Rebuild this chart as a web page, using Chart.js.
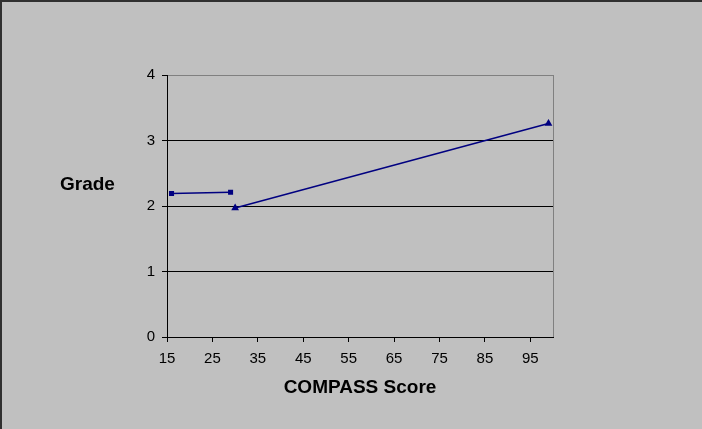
<!DOCTYPE html>
<html>
<head>
<meta charset="utf-8">
<script src="https://cdn.jsdelivr.net/npm/chart.js@4"></script>
<style>
    html, body { margin: 0; padding: 0; background: #c0c0c0; }
    #wrap {
        position: relative;
        width: 702px;
        height: 429px;
        background: #c0c0c0;
        box-shadow: inset 2px 2px 0 #303030;
        font-family: "Liberation Sans", Arial, sans-serif;
    }
    #chartGrades { position: absolute; left: 0; top: 0; }
    #yTitle {
        position: absolute;
        left: 60px;
        top: 173px;
        font-size: 19px;
        font-weight: bold;
        color: #000;
    }
</style>
</head>
<body>
<div id="wrap">
    <canvas id="chartGrades" width="702" height="429"></canvas>
    <div id="yTitle">Grade</div>
</div>
<script>
// data
let scoresA = [16, 29];
let gradesA = [2.19, 2.21];
let scoresB = [30, 99];
let gradesB = [1.97, 3.26];

let xTicks = [15, 25, 35, 45, 55, 65, 75, 85, 95];
let yTicks = [0, 1, 2, 3, 4];
let xMin = 15, xMax = 100;

let navy = "#000080";
let tickFont = { family: "'Liberation Sans', Arial, sans-serif", size: 15 };

function toPoints(xs, ys) {
    return xs.map((x, i) => ({ x: x, y: ys[i] }));
}

let ctx = document.getElementById("chartGrades");
window.chartInstance = new Chart(ctx, {
    type: "scatter",
    data: {
        datasets: [{
            label: "A",
            data: toPoints(scoresA, gradesA),
            showLine: true,
            borderColor: navy,
            backgroundColor: navy,
            borderWidth: 1.5,
            pointStyle: "rect",
            pointRadius: 2.5,
            pointHoverRadius: 2.5
        }, {
            label: "B",
            data: toPoints(scoresB, gradesB),
            showLine: true,
            borderColor: navy,
            backgroundColor: navy,
            borderWidth: 1.5,
            pointStyle: "triangle",
            pointRadius: 3,
            pointHoverRadius: 3
        }]
    },
    options: {
        responsive: false,
        animation: false,
        layout: { padding: { left: 0, top: 75, right: 149, bottom: 0 } },
        plugins: {
            legend: { display: false },
            tooltip: { enabled: false }
        },
        scales: {
            x: {
                type: "linear",
                min: xMin,
                max: xMax,
                afterBuildTicks: function(scale) {
                    scale.ticks = xTicks.concat([xMax]).map(v => ({ value: v }));
                },
                afterFit: function(scale) { scale.height = 92; },
                ticks: {
                    font: tickFont,
                    color: "#000",
                    padding: 8,
                    maxRotation: 0,
                    autoSkip: false,
                    callback: v => (v === xMax ? "" : v)
                },
                grid: {
                    color: c => (c.tick && c.tick.value === xMax ? "#808080" : "rgba(0,0,0,0)"),
                    tickColor: c => (c.tick && c.tick.value === xMax ? "rgba(0,0,0,0)" : "#000"),
                    tickLength: 5,
                    lineWidth: 1
                },
                border: { color: "#000", width: 1 },
                title: {
                    display: true,
                    text: "COMPASS Score",
                    color: "#000",
                    font: { family: "'Liberation Sans', Arial, sans-serif", size: 19, weight: "bold" },
                    padding: { top: 0, bottom: 30 }
                }
            },
            y: {
                min: 0,
                max: 4,
                afterBuildTicks: function(scale) {
                    scale.ticks = yTicks.map(v => ({ value: v }));
                },
                afterFit: function(scale) { scale.width = 167; },
                ticks: {
                    font: tickFont,
                    color: "#000",
                    padding: 7
                },
                grid: {
                    color: c => (c.tick && c.tick.value === 4 ? "#808080" : "#000"),
                    tickColor: "#000",
                    tickLength: 5,
                    lineWidth: 1
                },
                border: { color: "#000", width: 1 }
            }
        }
    }
});
</script>
</body>
</html>
